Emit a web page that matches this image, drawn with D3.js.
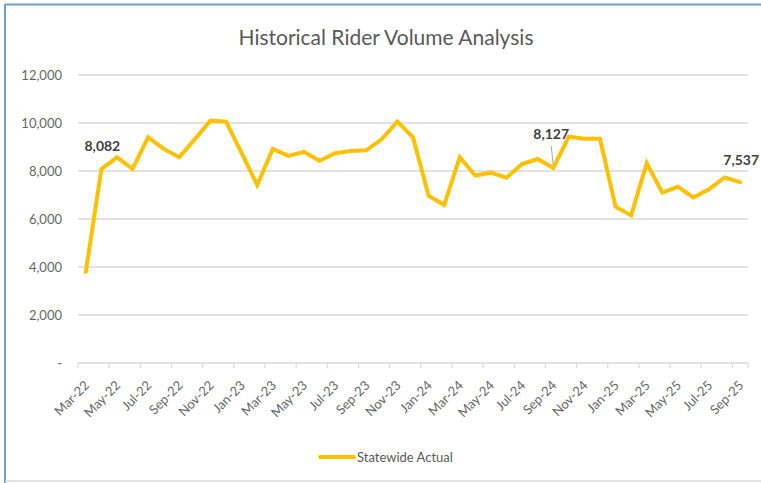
<!DOCTYPE html>
<html>
<head>
<meta charset="utf-8">
<script src="https://cdn.jsdelivr.net/npm/d3@7"></script>
<style>
  html, body { margin: 0; padding: 0; background: #fff; }
  svg { display: block; font-family: Lato, "Open Sans", sans-serif; }
</style>
</head>
<body>
<svg id="chart"></svg>
<script>
const months = [
  "Mar-22","Apr-22","May-22","Jun-22","Jul-22","Aug-22","Sep-22","Oct-22","Nov-22","Dec-22",
  "Jan-23","Feb-23","Mar-23","Apr-23","May-23","Jun-23","Jul-23","Aug-23","Sep-23","Oct-23","Nov-23","Dec-23",
  "Jan-24","Feb-24","Mar-24","Apr-24","May-24","Jun-24","Jul-24","Aug-24","Sep-24","Oct-24","Nov-24","Dec-24",
  "Jan-25","Feb-25","Mar-25","Apr-25","May-25","Jun-25","Jul-25","Aug-25","Sep-25"
];
const riders = [
  3790, 8082, 8570, 8090, 9400, 8920, 8570, 9330, 10100, 10060,
  8740, 7420, 8920, 8630, 8800, 8430, 8740, 8830, 8860, 9330, 10060, 9400,
  6970, 6580, 8570, 7810, 7930, 7720, 8290, 8500, 8127, 9430, 9340, 9340,
  6510, 6150, 8320, 7100, 7340, 6900, 7240, 7730, 7537
];
const yTicks = [0, 2000, 4000, 6000, 8000, 10000, 12000];
const labeledMonths = ["Apr-22", "Sep-24", "Sep-25"];

const width = 761;
const height = 483;
const margin = { top: 75, right: 13, bottom: 120, left: 78 };

const svg = d3.select("#chart").attr("width", width).attr("height", height);

// frame
svg.append("line").attr("x1", 5).attr("x2", width).attr("y1", 4.5).attr("y2", 4.5)
  .attr("stroke", "#6d9fd6").attr("stroke-width", 2);
svg.append("line").attr("x1", 5).attr("x2", 5).attr("y1", 4).attr("y2", height)
  .attr("stroke", "#6d9fd6").attr("stroke-width", 2);
svg.append("line").attr("x1", 5).attr("x2", width).attr("y1", 481).attr("y2", 481)
  .attr("stroke", "#d9d9d9").attr("stroke-width", 1.5);

const x = d3.scaleBand().domain(months).range([margin.left, width - margin.right]).padding(0);
const y = d3.scaleLinear().domain([0, 12000]).range([height - margin.bottom, margin.top]);
const cx = d => x(d) + x.bandwidth() / 2;

// title
svg.append("text")
  .attr("x", 386)
  .attr("y", 45)
  .attr("text-anchor", "middle")
  .attr("font-size", 21)
  .attr("fill", "#595959")
  .text("Historical Rider Volume Analysis");

// gridlines
svg.append("g")
  .selectAll("line")
  .data(yTicks.filter(d => d > 0))
  .enter()
  .append("line")
  .attr("x1", margin.left)
  .attr("x2", width - margin.right)
  .attr("y1", d => y(d))
  .attr("y2", d => y(d))
  .attr("stroke", "#d9d9d9")
  .attr("stroke-width", 1.5);

// y labels
svg.append("g")
  .selectAll("text")
  .data(yTicks)
  .enter()
  .append("text")
  .attr("x", margin.left - 16)
  .attr("y", d => y(d))
  .attr("dy", "0.35em")
  .attr("text-anchor", "end")
  .attr("font-size", 13)
  .attr("fill", "#666666")
  .text(d => d === 0 ? "-" : d3.format(",")(d));

// x axis line and ticks
svg.append("line")
  .attr("x1", margin.left).attr("x2", width - margin.right)
  .attr("y1", y(0)).attr("y2", y(0))
  .attr("stroke", "#d9d9d9").attr("stroke-width", 1.5);

const evenMonths = months.filter((d, i) => i % 2 === 0);
svg.append("g")
  .selectAll("line")
  .data(evenMonths.map(d => x(d)).concat([width - margin.right]))
  .enter()
  .append("line")
  .attr("x1", d => d).attr("x2", d => d)
  .attr("y1", y(0)).attr("y2", y(0) + 5)
  .attr("stroke", "#d9d9d9").attr("stroke-width", 1.2);

svg.append("g")
  .selectAll("text")
  .data(evenMonths)
  .enter()
  .append("text")
  .attr("transform", d => `translate(${cx(d) + 1}, ${y(0) + 20}) rotate(-45)`)
  .attr("text-anchor", "end")
  .attr("dy", "0.35em")
  .attr("font-size", 13)
  .attr("fill", "#666666")
  .text(d => d);

// line
const line = d3.line()
  .x((d, i) => cx(months[i]))
  .y(d => y(d));

svg.append("path")
  .datum(riders)
  .attr("d", line)
  .attr("fill", "none")
  .attr("stroke", "#ffc000")
  .attr("stroke-width", 4)
  .attr("stroke-linejoin", "miter")
  .attr("stroke-linecap", "round");

// data labels
const labelOffsets = {
  "Apr-22": { dx: 1, dy: -18, leader: false },
  "Sep-24": { dx: -2, dy: -29, leader: true },
  "Sep-25": { dx: 1, dy: -17, leader: false }
};
labeledMonths.forEach(m => {
  const i = months.indexOf(m);
  const o = labelOffsets[m];
  const px = cx(m), py = y(riders[i]);
  if (o.leader) {
    svg.append("line")
      .attr("x1", px - 2).attr("y1", py + o.dy + 7)
      .attr("x2", px).attr("y2", py - 3)
      .attr("stroke", "#a6a6a6").attr("stroke-width", 1);
  }
  svg.append("text")
    .attr("x", px + o.dx)
    .attr("y", py + o.dy)
    .attr("text-anchor", "middle")
    .attr("font-size", 14)
    .attr("font-weight", "bold")
    .attr("fill", "#404040")
    .text(d3.format(",")(riders[i]));
});

// legend
const legend = svg.append("g").attr("transform", "translate(320, 457)");
legend.append("line")
  .attr("x1", 0).attr("x2", 34).attr("y1", 0).attr("y2", 0)
  .attr("stroke", "#ffc000").attr("stroke-width", 4).attr("stroke-linecap", "round");
legend.append("text")
  .attr("x", 37).attr("y", 0).attr("dy", "0.35em")
  .attr("font-size", 13)
  .attr("fill", "#595959")
  .text("Statewide Actual");
</script>
</body>
</html>
